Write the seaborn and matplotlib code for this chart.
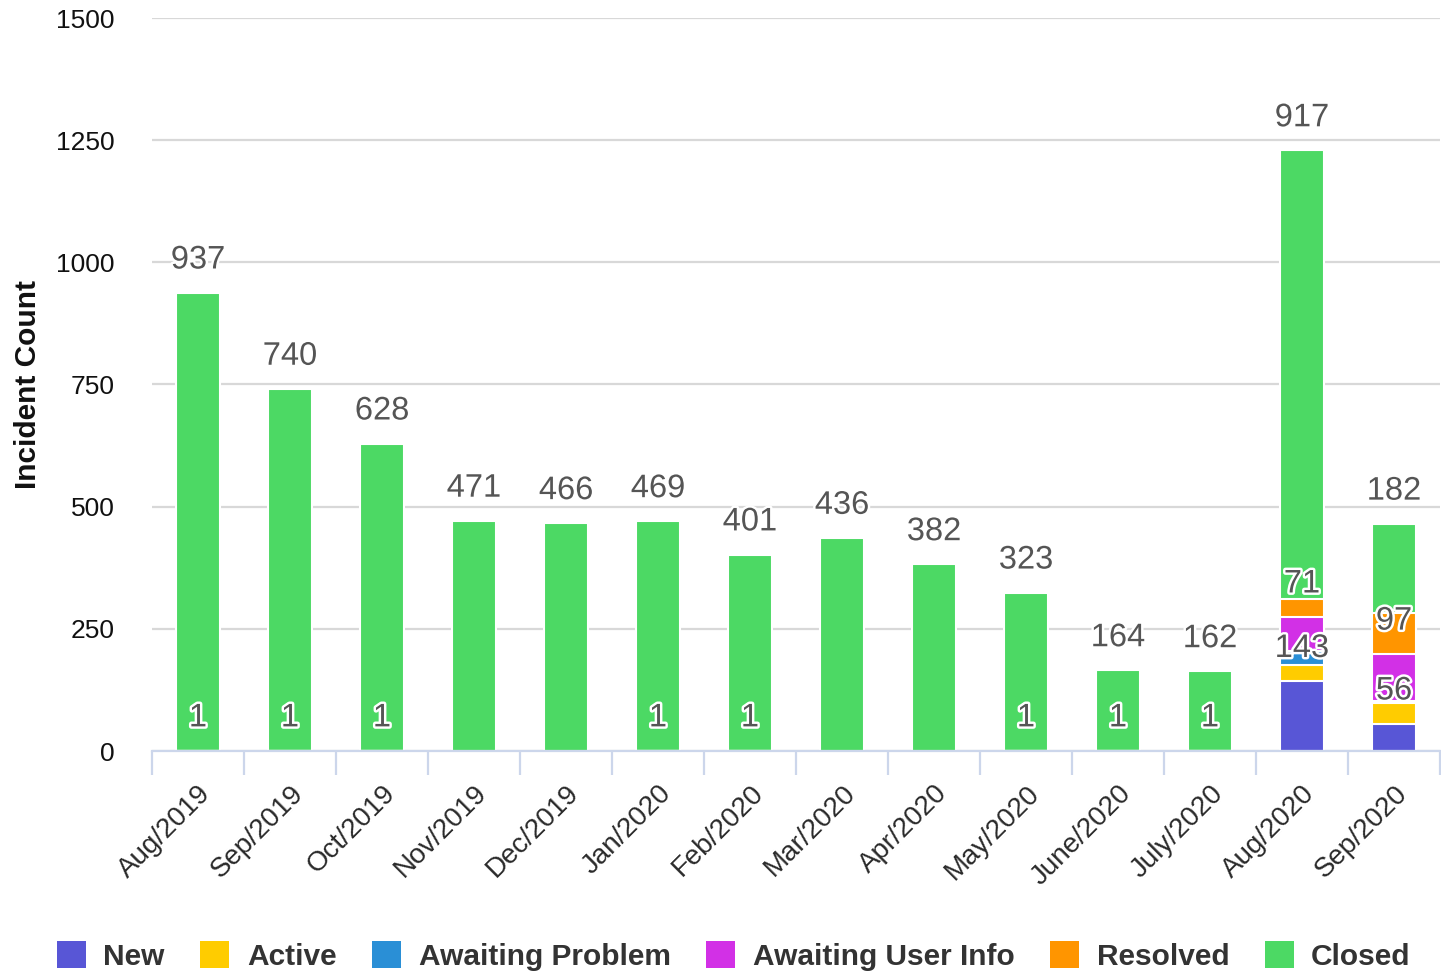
import matplotlib
matplotlib.use('Agg')
import matplotlib.pyplot as plt
import matplotlib.patheffects as pe
from matplotlib.patches import Patch
import numpy as np
import pandas as pd
import seaborn as sns

months = [
	'Aug/2019', 'Sep/2019', 'Oct/2019', 'Nov/2019', 'Dec/2019', 'Jan/2020', 'Feb/2020',
	'Mar/2020', 'Apr/2020', 'May/2020', 'June/2020', 'July/2020', 'Aug/2020', 'Sep/2020',
]
statuses = ['New', 'Active', 'Awaiting Problem', 'Awaiting User Info', 'Resolved', 'Closed']

new = [1, 1, 1, 0, 0, 1, 1, 0, 0, 1, 1, 1, 143, 56]
active = [0, 0, 0, 0, 0, 0, 0, 0, 0, 0, 0, 0, 33, 42]
awaiting_problem = [0, 0, 0, 0, 0, 0, 0, 0, 0, 0, 0, 0, 28, 4]
awaiting_user_info = [0, 0, 0, 0, 0, 0, 0, 0, 0, 0, 0, 0, 71, 97]
resolved = [0, 0, 0, 0, 0, 0, 0, 0, 0, 0, 0, 0, 37, 84]
closed = [937, 740, 628, 471, 466, 469, 401, 436, 382, 323, 164, 162, 917, 182]

colors = ['#5856d6', '#ffcc00', '#2a8fd6', '#d230e6', '#ff9500', '#4cd964']
labelled = ['New', 'Awaiting User Info', 'Closed']
y_ticks = [0, 250, 500, 750, 1000, 1250, 1500]

sns.set_theme(style='white')
plt.rcParams['font.family'] = ['Liberation Sans', 'DejaVu Sans']

df = pd.DataFrame({
	'New': new,
	'Active': active,
	'Awaiting Problem': awaiting_problem,
	'Awaiting User Info': awaiting_user_info,
	'Resolved': resolved,
	'Closed': closed,
}, index=months)
cum = df[statuses].cumsum(axis=1)

fig = plt.figure(figsize=(14.41, 9.71), dpi=100)
ax = fig.add_axes([152 / 1441, 1 - 751 / 971, 1288 / 1441, 733 / 971])

# stacked columns: draw the tallest cumulative layer first, then overlay
for status, color in reversed(list(zip(statuses, colors))):
	sns.barplot(
		x=months, y=cum[status].values, order=months, color=color, saturation=1,
		width=0.48, edgecolor='white', linewidth=1.5, errorbar=None, ax=ax,
	)
for patch in ax.patches:
	if patch.get_height() <= 0:
		patch.set_linewidth(0)

outline = [pe.withStroke(linewidth=3.5, foreground='white')]
for status in labelled:
	for i, value in enumerate(df[status]):
		if value > 0:
			ax.annotate(
				str(value), xy=(i, cum[status].iloc[i]), xytext=(0, 23.5),
				textcoords='offset points', ha='center', va='center',
				fontsize=23.5, color='#555555', path_effects=outline, zorder=5,
			)

ax.set_xlim(-0.5, len(months) - 0.5)
ax.set_ylim(0, 1500)
ax.set_yticks(y_ticks)
ax.grid(axis='y', color='#d8d8d8', linewidth=1.6)
ax.grid(axis='x', visible=False)
ax.set_axisbelow(True)
for side in ['top', 'right', 'left']:
	ax.spines[side].set_visible(False)
ax.spines['bottom'].set_color('#ccd6eb')
ax.spines['bottom'].set_linewidth(1.6)

ax.set_xticks(range(len(months)))
ax.set_xticklabels(months, rotation=45, ha='right', rotation_mode='anchor')
ax.set_xticks(np.arange(-0.5, len(months)), minor=True)
ax.tick_params(axis='x', which='major', length=0, pad=21, labelsize=20, labelcolor='#2a2a2a')
ax.tick_params(axis='x', which='minor', length=17, width=1.6, color='#ccd6eb', bottom=True)
ax.tick_params(axis='y', length=0, pad=27, labelsize=19, labelcolor='#111111')
ax.set_xlabel('')
ax.set_ylabel('Incident Count', fontsize=21.5, fontweight='bold', color='#111111', labelpad=10)

handles = [Patch(facecolor=c, edgecolor='none') for c in colors]
fig.legend(
	handles, statuses, loc='center left', bbox_to_anchor=(57 / 1441, 1 - 956 / 971),
	ncol=6, frameon=False, handlelength=0.97, handleheight=1.0, handletextpad=0.58,
	columnspacing=1.2, borderaxespad=0, borderpad=0,
	prop={'size': 21.5, 'weight': 'bold'}, labelcolor='#333333',
)

fig.savefig('out.png', dpi=100)
